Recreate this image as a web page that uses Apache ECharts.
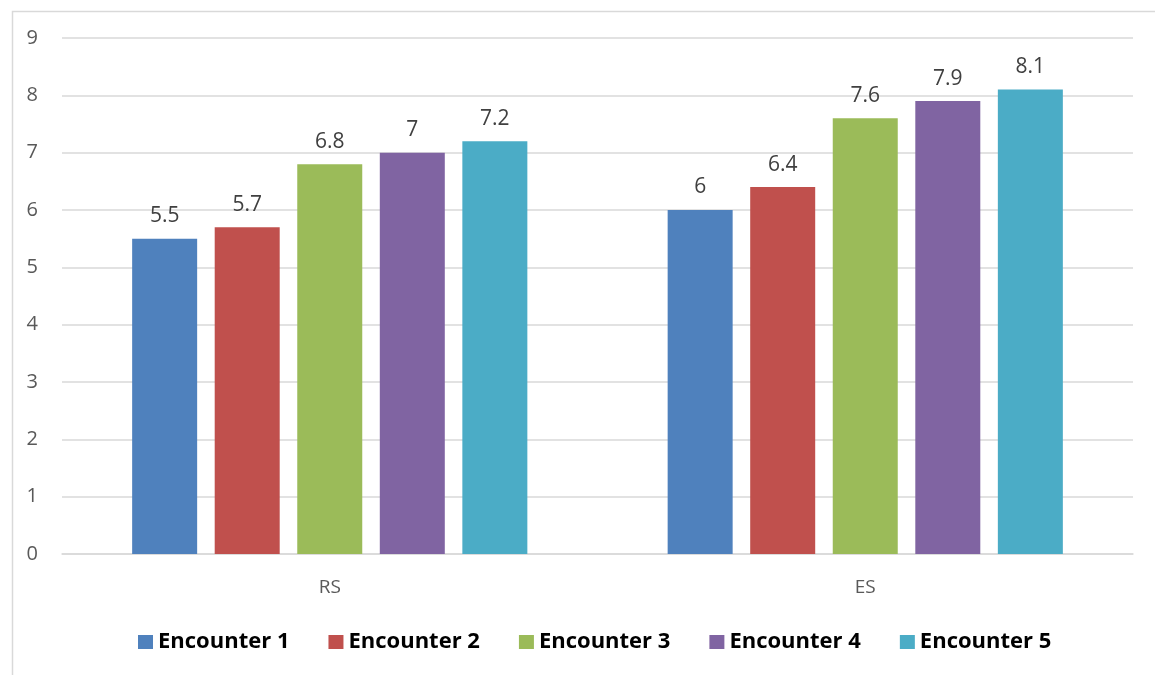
<!DOCTYPE html>
<html>
<head>
<meta charset="utf-8">
<script src="https://cdn.jsdelivr.net/npm/echarts@6/dist/echarts.min.js"></script>
<style>html,body{margin:0;padding:0;background:#fff}#c{width:1155px;height:675px}</style>
</head>
<body>
<div id="c"></div>
<script>
const categories = ['RS', 'ES'];
const seriesNames = ['Encounter 1', 'Encounter 2', 'Encounter 3', 'Encounter 4', 'Encounter 5'];
const enc1 = [5.5, 6];
const enc2 = [5.7, 6.4];
const enc3 = [6.8, 7.6];
const enc4 = [7, 7.9];
const enc5 = [7.2, 8.1];
const yTicks = [0, 1, 2, 3, 4, 5, 6, 7, 8, 9];
const colors = ['#4F81BD', '#C0504D', '#9BBB59', '#8064A2', '#4BACC6'];

const allData = [enc1, enc2, enc3, enc4, enc5];
const chart = echarts.init(document.getElementById('c'));
chart.setOption({
  animation: false,
  color: colors,
  textStyle: { fontFamily: 'Open Sans' },
  graphic: [{
    type: 'rect', left: 10, top: 9, silent: true,
    shape: { width: 1300, height: 800 },
    style: { fill: 'none', stroke: '#d9d9d9', lineWidth: 1.5 }
  }],
  grid: { left: 62, right: 22, top: 38, bottom: 121, containLabel: false },
  legend: {
    bottom: 17, left: 133,
    itemWidth: 15, itemHeight: 14, itemGap: 39,
    icon: 'rect',
    textStyle: { fontSize: 22, fontWeight: 'bold', color: '#000', fontFamily: 'Open Sans' },
    data: seriesNames
  },
  xAxis: {
    type: 'category', data: categories,
    axisLine: { lineStyle: { color: '#d9d9d9', width: 1.5 } },
    axisTick: { show: false },
    axisLabel: { fontSize: 19, color: '#595959', margin: 24 }
  },
  yAxis: {
    type: 'value', min: yTicks[0], max: yTicks[yTicks.length - 1], interval: 1,
    axisLine: { show: false }, axisTick: { show: false },
    splitLine: { lineStyle: { color: '#d9d9d9', width: 1.5 } },
    axisLabel: { fontSize: 20, color: '#595959', margin: 24 }
  },
  series: seriesNames.map((n, i) => ({
    name: n, type: 'bar', data: allData[i],
    barWidth: 65, barGap: '27%',
    label: { show: true, position: 'top', distance: 12, fontSize: 21, color: '#404040' }
  }))
});
</script>
</body>
</html>
